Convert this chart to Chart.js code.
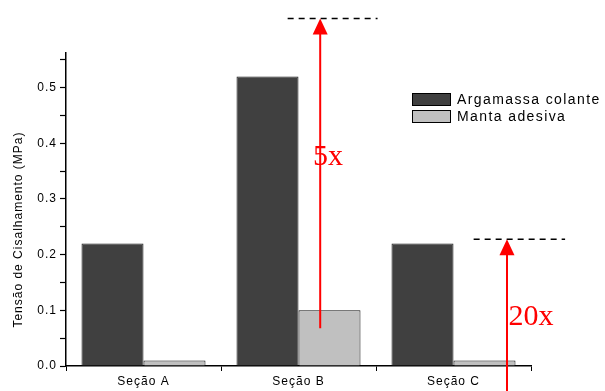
<!DOCTYPE html>
<html>
<head>
<meta charset="utf-8">
<script src="https://cdn.jsdelivr.net/npm/chart.js@4/dist/chart.umd.min.js"></script>
<style>
  html, body { margin: 0; padding: 0; background: #fff; }
  #box { width: 605px; height: 391px; }
</style>
</head>
<body>
<div id="box"><canvas id="chart"></canvas></div>
<script>
let categories = ["Seção A", "Seção B", "Seção C"];
let argamassa = [0.22, 0.52, 0.22];
let manta = [0.01, 0.10, 0.01];
let series_names = ["Argamassa colante", "Manta adesiva"];
let y_ticks = [0.0, 0.1, 0.2, 0.3, 0.4, 0.5];

// red arrows with labels: x in category units, y in MPa
let arrows = [
    { x: 1.14, from: 0.068, to: 0.624, label: "5x", lx: 1.19, ly: 0.375, dash: [0.93, 1.51] },
    { x: 2.345, from: -0.05, to: 0.2275, label: "20x", lx: 2.50, ly: 0.087, dash: [2.13, 2.72] }
];

const font = "'Liberation Sans', Arial, sans-serif";

let extras = {
    id: "extras",
    beforeDraw(chart) {
        // the original export draws its sans text slightly spaced out
        chart.ctx.letterSpacing = "1px";
    },
    afterDraw(chart) {
        const ctx = chart.ctx;
        const xs = chart.scales.x;
        const ys = chart.scales.y;
        ctx.save();
        // y axis title
        ctx.fillStyle = "#000";
        ctx.font = "12px " + font;
        ctx.letterSpacing = "1px";
        ctx.textAlign = "center";
        ctx.textBaseline = "middle";
        ctx.translate(19, ys.getPixelForValue(0.245));
        ctx.rotate(-Math.PI / 2);
        ctx.fillText("Tensão de Cisalhamento (MPa)", 0, 0);
        ctx.restore();

        arrows.forEach(a => {
            const x = xs.getPixelForValue(a.x);
            const y0 = ys.getPixelForValue(a.from);
            const y1 = ys.getPixelForValue(a.to);
            ctx.save();
            ctx.letterSpacing = "0px";
            // dashed reference line
            ctx.strokeStyle = "#000";
            ctx.lineWidth = 1.5;
            ctx.setLineDash([6, 5]);
            ctx.beginPath();
            ctx.moveTo(xs.getPixelForValue(a.dash[0]), y1);
            ctx.lineTo(xs.getPixelForValue(a.dash[1]), y1);
            ctx.stroke();
            ctx.setLineDash([]);
            // arrow shaft
            ctx.strokeStyle = "#ff0000";
            ctx.lineWidth = 2;
            ctx.beginPath();
            ctx.moveTo(x, y0);
            ctx.lineTo(x, y1 + 14);
            ctx.stroke();
            // head
            ctx.fillStyle = "#ff0000";
            ctx.beginPath();
            ctx.moveTo(x, y1);
            ctx.lineTo(x - 7.5, y1 + 16);
            ctx.lineTo(x + 7.5, y1 + 16);
            ctx.closePath();
            ctx.fill();
            // label
            ctx.font = "30px 'Liberation Serif', 'Times New Roman', serif";
            ctx.textAlign = "center";
            ctx.textBaseline = "middle";
            ctx.fillText(a.label, xs.getPixelForValue(a.lx), ys.getPixelForValue(a.ly));
            ctx.restore();
        });
    }
};

new Chart(document.getElementById("chart"), {
    type: "bar",
    data: {
        labels: categories,
        datasets: [
            { label: series_names[0], data: argamassa, backgroundColor: "#404040", borderColor: "#1a1a1a", borderWidth: 1 },
            { label: series_names[1], data: manta, backgroundColor: "#c0c0c0", borderColor: "#111", borderWidth: 1 }
        ]
    },
    options: {
        responsive: true,
        maintainAspectRatio: false,
        animation: false,
        categoryPercentage: 0.8,
        barPercentage: 1.0,
        layout: { padding: { left: 0, right: 74, top: 53, bottom: 0 } },
        plugins: {
            legend: { display: false },
            tooltip: { enabled: false }
        },
        scales: {
            x: {
                grid: { display: true, drawOnChartArea: false, offset: true, tickLength: 5, color: "#000" },
                border: { color: "#000", width: 1.5 },
                ticks: { color: "#000", font: { family: font, size: 12 }, padding: 3 },
                afterFit: s => { s.height = 25; }
            },
            y: {
                min: 0,
                max: 0.562,
                afterBuildTicks: s => {
                    let t = [];
                    for (let v = 0; v <= 0.55 + 1e-9; v += 0.05) t.push({ value: Math.round(v * 100) / 100 });
                    s.ticks = t;
                },
                grid: {
                    drawOnChartArea: false,
                    color: "#000",
                    tickLength: 6,
                    tickWidth: 1.2
                },
                border: { color: "#000", width: 1.5 },
                ticks: {
                    color: "#000",
                    font: { family: font, size: 12 },
                    padding: 3,
                    callback: v => {
                        let r = Math.round(v * 100) / 100;
                        return y_ticks.some(t => Math.abs(t - r) < 1e-9) ? r.toFixed(1) : "";
                    }
                },
                afterFit: s => { s.width = 66; }
            }
        }
    },
    plugins: [extras, {
        id: "legendbox",
        afterDraw(chart) {
            const ctx = chart.ctx;
            const cols = ["#404040", "#c0c0c0"];
            ctx.save();
            ctx.font = "14px " + font;
            ctx.letterSpacing = "1.4px";
            ctx.textBaseline = "middle";
            series_names.forEach((n, i) => {
                const y = 93 + i * 17;
                ctx.fillStyle = cols[i];
                ctx.fillRect(412, y, 39, 13);
                ctx.strokeStyle = "#000";
                ctx.lineWidth = 1;
                ctx.strokeRect(412.5, y + 0.5, 38, 12);
                ctx.fillStyle = "#000";
                ctx.fillText(n, 457, y + 7);
            });
            ctx.restore();
        }
    }]
});
</script>
</body>
</html>
